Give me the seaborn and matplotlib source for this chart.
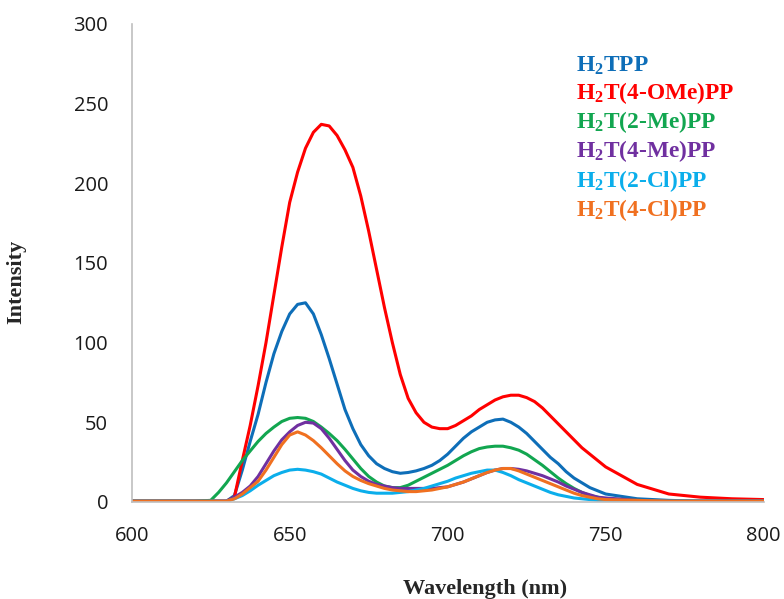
import numpy as np
import pandas as pd
import seaborn as sns
import matplotlib.pyplot as plt

# wavelength grid (nm)
wavelength = [600, 610, 620, 625, 627.5, 630, 632.5, 635, 637.5, 640, 642.5, 645, 647.5,
              650, 652.5, 655, 657.5, 660, 662.5, 665, 667.5, 670, 672.5, 675, 677.5,
              680, 682.5, 685, 687.5, 690, 692.5, 695, 697.5, 700, 702.5, 705, 707.5,
              710, 712.5, 715, 717.5, 720, 722.5, 725, 727.5, 730, 732.5, 735, 737.5,
              740, 742.5, 745, 747.5, 750, 760, 770, 780, 790, 800]

h2tpp = [0.5, 0.5, 0.5, 0.5, 0.5, 0.5, 4, 20, 38, 55, 75, 93, 107,
         118, 124, 125, 118, 105, 90, 74, 58, 46, 36, 29, 24,
         21, 19, 18, 18.5, 19.5, 21, 23, 26, 30, 35, 40, 44,
         47, 50, 51.5, 52, 50, 47, 43, 38, 33, 28, 24, 19,
         15, 12, 9, 7, 5, 2, 1, 0.5, 0.5, 0.5]

ome_4 = [0.5, 0.5, 0.5, 0.5, 0.5, 0.5, 3, 26, 48, 73, 100, 130, 160,
         188, 207, 222, 232, 237, 236, 230, 221, 210, 192, 170, 146,
         122, 100, 80, 65, 56, 50, 47, 46, 46, 48, 51, 54,
         58, 61, 64, 66, 67, 67, 65.5, 63, 59, 54, 49, 44,
         39, 34, 30, 26, 22, 11, 5, 3, 2, 1.5]

me_2 = [0.5, 0.5, 0.5, 1, 6, 12, 19, 26, 32, 38, 43, 47, 50.5,
        52.5, 53, 52.5, 50.5, 47, 43, 38.5, 33, 27, 21, 16, 12.5,
        10, 9, 9, 10.5, 13, 15.5, 18, 20.5, 23, 26, 29, 31.5,
        33.5, 34.5, 35, 35, 34, 32.5, 30, 26.5, 23, 19, 15, 11.5,
        8.5, 6, 4, 3, 2, 1, 0.5, 0.5, 0.5, 0.5]

me_4 = [0.5, 0.5, 0.5, 0.5, 0.5, 0.5, 3, 6, 10, 16, 24, 32, 39,
        44, 48, 50, 49.5, 46, 40, 33, 26, 20, 16, 13, 11,
        10, 9, 8.5, 8.5, 8.5, 8.5, 8.5, 9, 9.5, 11, 12.5, 14.5,
        16.5, 18.5, 20, 21, 21, 20.5, 19.5, 18, 16.5, 14.5, 12.5, 10,
        8, 6, 4.5, 3, 2.5, 1, 0.5, 0.5, 0.5, 0.5]

cl_2 = [0.5, 0.5, 0.5, 0.5, 0.5, 0.5, 2, 4, 7, 10.5, 13.5, 16.5, 18.5,
        20, 20.5, 20, 19, 17.5, 15, 12.5, 10.5, 8.5, 7, 6, 5.5,
        5.5, 5.5, 6, 6.5, 7.5, 8.5, 10, 11.5, 13, 15, 16.5, 18,
        19, 20, 20, 18.5, 16.5, 14, 12, 10, 8, 6, 4.5, 3.5,
        2.5, 2, 1.5, 1, 1, 0.5, 0.5, 0.5, 0.5, 0.5]

cl_4 = [0.5, 0.5, 0.5, 0.5, 0.5, 0.5, 2, 5, 9, 13, 20, 28, 36,
        42, 44, 42, 38.5, 34, 29, 24, 19.5, 16, 13.5, 11.5, 10,
        8.5, 7.5, 7, 6.5, 6.5, 7, 7.5, 8.5, 9.5, 11, 12.5, 14.5,
        16.5, 18.5, 20, 21, 21, 19.5, 17.5, 15.5, 13.5, 11.5, 9.5, 7.5,
        5.5, 4, 3, 2, 1.5, 1, 0.5, 0.5, 0.5, 0.5]

names = [r"H$_\mathbf{2}$TPP", r"H$_\mathbf{2}$T(4-OMe)PP", r"H$_\mathbf{2}$T(2-Me)PP",
         r"H$_\mathbf{2}$T(4-Me)PP", r"H$_\mathbf{2}$T(2-Cl)PP", r"H$_\mathbf{2}$T(4-Cl)PP"]
series = [h2tpp, ome_4, me_2, me_4, cl_2, cl_4]
colors = ["#0E6EB8", "#FF0000", "#12A650", "#7030A0", "#0BAEEB", "#F07020"]

df = pd.concat([pd.DataFrame({"wl": wavelength, "I": s, "comp": n})
                for n, s in zip(names, series)])

sns.set_style("white")
plt.rcParams["font.family"] = ["Open Sans", "DejaVu Sans"]
plt.rcParams["mathtext.fontset"] = "custom"
plt.rcParams["mathtext.rm"] = "Liberation Serif:bold"
plt.rcParams["mathtext.bf"] = "Liberation Serif:bold"

fig = plt.figure(figsize=(7.84, 5.99), dpi=100)
ax = fig.add_axes([0.168, 0.162, 0.806, 0.798])

sns.lineplot(data=df, x="wl", y="I", hue="comp", hue_order=names,
             palette=colors, linewidth=2.2, ax=ax)

ax.set_xlim(600, 800)
ax.set_ylim(0, 300)
ax.set_xticks(range(600, 801, 50))
ax.set_yticks(range(0, 301, 50))
ax.tick_params(length=0, labelsize=14.5, colors="#1a1a1a")
ax.tick_params(axis="y", pad=17)
ax.tick_params(axis="x", pad=17)
for s in ["top", "right"]:
    ax.spines[s].set_visible(False)
for s in ["left", "bottom"]:
    ax.spines[s].set_color("#BFBFBF")
    ax.spines[s].set_linewidth(1.2)

ax.set_xlabel("Wavelength (nm)", family="Liberation Serif", fontweight="bold",
              fontsize=16)
ax.set_ylabel("Intensity", family="Liberation Serif", fontweight="bold",
              fontsize=16)
# label positions in pixels, converted to axes fractions
ax.xaxis.set_label_coords((485 - 132) / 632, -(579 - 502) / 478)
ax.yaxis.set_label_coords(-(132 - 27) / 632, (502 - 282) / 478)

handles, labels = ax.get_legend_handles_labels()
leg = ax.legend(handles, labels, loc="upper left", bbox_to_anchor=(0.708, 0.945),
                bbox_transform=fig.transFigure, frameon=False, handlelength=0,
                handletextpad=0, labelspacing=0.14,
                prop={"family": "Liberation Serif", "weight": "bold", "size": 16.8})
for h, t in zip(leg.legend_handles, leg.get_texts()):
    t.set_color(h.get_color())
    h.set_visible(False)

fig.savefig("out.png", dpi=100)
